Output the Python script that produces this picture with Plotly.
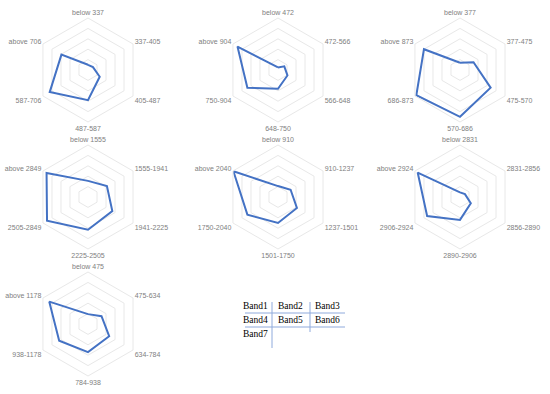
import plotly.graph_objects as go

W, H = 550, 394

band_names = ["Band1", "Band2", "Band3", "Band4", "Band5", "Band6", "Band7"]

axis_labels = [
    ["below 337", "337-405", "405-487", "487-587", "587-706", "above 706"],
    ["below 472", "472-566", "566-648", "648-750", "750-904", "above 904"],
    ["below 377", "377-475", "475-570", "570-686", "686-873", "above 873"],
    ["below 1555", "1555-1941", "1941-2225", "2225-2505", "2505-2849", "above 2849"],
    ["below 910", "910-1237", "1237-1501", "1501-1750", "1750-2040", "above 2040"],
    ["below 2831", "2831-2856", "2856-2890", "2890-2906", "2906-2924", "above 2924"],
    ["below 475", "475-634", "634-784", "784-938", "938-1178", "above 1178"],
]

band1 = [10, 11, 26, 58, 85, 59]
band2 = [5, 14, 21, 36, 68, 90]
band3 = [14, 30, 68, 90, 97, 80]
band4 = [31, 42, 54, 63, 91, 92]
band5 = [21, 28, 42, 50, 68, 99]
band6 = [9, 11, 24, 44, 73, 94]
band7 = [19, 30, 47, 54, 64, 86]
band_values = [band1, band2, band3, band4, band5, band6, band7]

# layout of the grid (pixel centres)
col_x = [88, 278, 460]
row_y = [70, 197, 324]
R = 52

fig = go.Figure()
layout_polars = {}
for i, (labels, vals) in enumerate(zip(axis_labels, band_values)):
    r, c = divmod(i, 3)
    cx, cy = col_x[c], row_y[r]
    name = "polar" if i == 0 else f"polar{i+1}"
    fig.add_trace(go.Scatterpolar(
        r=vals + vals[:1], theta=labels + labels[:1],
        mode="lines", line=dict(color="#4472C4", width=2),
        subplot=name, showlegend=False, hoverinfo="skip"))
    layout_polars[name] = dict(
        domain=dict(x=[(cx - R) / W, (cx + R) / W],
                    y=[(H - cy - R) / H, (H - cy + R) / H]),
        gridshape="linear",
        bgcolor="white",
        radialaxis=dict(range=[0, 100], dtick=20, showticklabels=False,
                        ticks="", showline=False, gridcolor="#e8e8e8",
                        gridwidth=1),
        angularaxis=dict(rotation=90, direction="clockwise", showgrid=False,
                         showline=True, linecolor="#e8e8e8", linewidth=1,
                         ticks="", tickfont=dict(size=7, color="#808080",
                                                 family="Liberation Sans")),
    )
fig.update_layout(**layout_polars)

# table of band names
tbl_col_x = [255, 290, 327]
tbl_row_y = [306, 320, 334]
annotations = []
for k, name in enumerate(band_names):
    rr, cc = divmod(k, 3)
    annotations.append(dict(
        x=tbl_col_x[cc] / W, y=1 - tbl_row_y[rr] / H, xref="paper", yref="paper",
        text=name, showarrow=False, xanchor="center", yanchor="middle",
        font=dict(family="Liberation Serif", size=9.5, color="black")))

line_col = "#8faadc"
shapes = [
    dict(type="line", xref="paper", yref="paper", x0=245 / W, x1=345 / W,
         y0=1 - 313 / H, y1=1 - 313 / H, line=dict(color=line_col, width=1)),
    dict(type="line", xref="paper", yref="paper", x0=245 / W, x1=345 / W,
         y0=1 - 327 / H, y1=1 - 327 / H, line=dict(color=line_col, width=1)),
    dict(type="line", xref="paper", yref="paper", x0=272 / W, x1=272 / W,
         y0=1 - 302 / H, y1=1 - 348 / H, line=dict(color=line_col, width=1)),
    dict(type="line", xref="paper", yref="paper", x0=310 / W, x1=310 / W,
         y0=1 - 302 / H, y1=1 - 332 / H, line=dict(color=line_col, width=1)),
]

fig.update_layout(width=W, height=H, margin=dict(l=0, r=0, t=0, b=0),
                  paper_bgcolor="white", plot_bgcolor="white",
                  annotations=annotations, shapes=shapes)

fig.write_html("out.html", config={"displayModeBar": False},
               post_script="document.body.style.margin='0';")
